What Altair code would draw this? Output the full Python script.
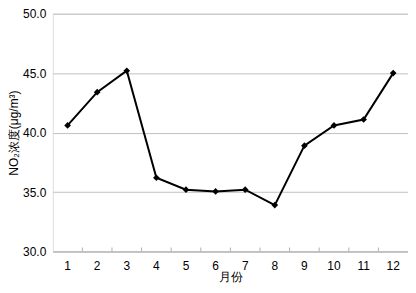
import altair as alt
import pandas as pd

months = [1, 2, 3, 4, 5, 6, 7, 8, 9, 10, 11, 12]
no2 = [40.6, 43.4, 45.2, 36.2, 35.2, 35.05, 35.2, 33.9, 38.9, 40.6, 41.1, 45.0]
y_ticks = [30, 35, 40, 45, 50]

df = pd.DataFrame({"month": months, "no2": no2})
tick_df = pd.DataFrame({"month": months[1:]})

W, H = 357, 239
font = "Liberation Sans"

x_scale = alt.Scale(type="band", domain=months, paddingInner=0, paddingOuter=0)
y_scale = alt.Scale(domain=[30, 50], nice=False, zero=False)

line = alt.Chart(df).mark_line(color="black", strokeWidth=2).encode(
    x=alt.X("month:O", scale=x_scale,
            axis=alt.Axis(title="月份", labelAngle=0, ticks=False, domain=True,
                          domainColor="#b0b0b0", labelFontSize=12, labelFont=font,
                          labelColor="black", titleFont=font, titleFontSize=12,
                          titleFontWeight="normal", titleColor="black",
                          labelPadding=9, titlePadding=0, grid=False)),
    y=alt.Y("no2:Q", scale=y_scale,
            axis=alt.Axis(title="NO₂浓度(μg/m³)", values=y_ticks, format=".1f",
                          ticks=False, domain=False, labelFontSize=12, labelFont=font,
                          labelColor="black", titleFont=font, titleFontSize=12,
                          titleFontWeight="normal", titleColor="black",
                          labelPadding=7, titlePadding=2, grid=True,
                          gridColor="#c0c0c0", gridWidth=1)),
)

points = alt.Chart(df).mark_point(shape="diamond", filled=True, color="black",
                                  size=45, opacity=1).encode(
    x=alt.X("month:O", scale=x_scale),
    y=alt.Y("no2:Q", scale=y_scale),
)

ticks = alt.Chart(tick_df).mark_rule(color="#b0b0b0", strokeWidth=1).encode(
    x=alt.X("month:O", scale=x_scale, bandPosition=0),
    y=alt.value(H),
    y2=alt.value(H - 4),
)

chart = alt.layer(line, ticks, points).properties(
    width=W, height=H,
    autosize=alt.AutoSizeParams(type="none"),
    padding={"left": 45, "top": 5, "right": 0, "bottom": 33},
).configure_view(stroke="#b0b0b0", strokeWidth=1).configure(background="white")

chart.save("out.html", embed_options={"renderer": "svg", "actions": False})
